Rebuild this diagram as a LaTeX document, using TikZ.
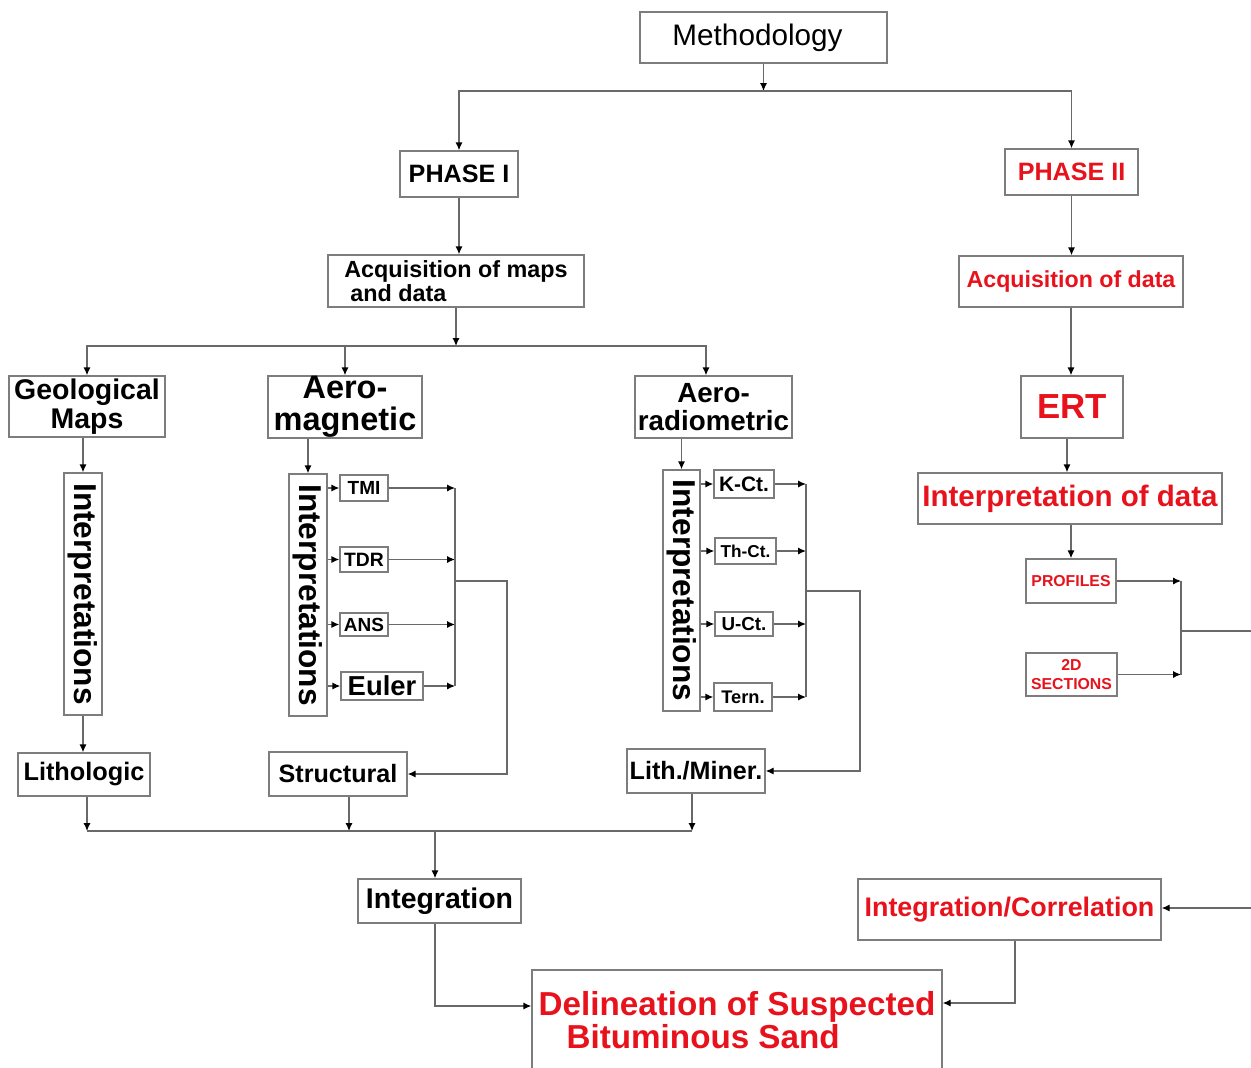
\documentclass[tikz,border=0pt]{standalone}
\usepackage{fontspec}
\setmainfont{Liberation Sans}
\usetikzlibrary{arrows.meta}

\definecolor{boxgray}{RGB}{125,125,125}
\definecolor{linegray}{RGB}{105,105,105}
\definecolor{phasered}{RGB}{232,18,28}
\newdimen\pxu \pxu=0.02cm

\tikzset{
	box/.style={draw=boxgray, line width=0.8pt, fill=white, inner sep=0pt, align=center},
	redbox/.style={box, text=phasered},
	sz/.style 2 args={minimum width={#1*\pxu}, minimum height={#2*\pxu}},
	fsz/.style={font=\bfseries\fontsize{#1}{#1}\selectfont},
	link/.style={draw=linegray, line width=0.7pt},
	arr/.style={link, -{Latex[length=4.5pt,width=4pt,color=black]}},
}

\begin{document}
\begin{tikzpicture}[x=0.02cm, y=-0.02cm]
	\clip (0,0) rectangle (1251,1068);
	% top of the tree
	\node[box, sz={247}{51}, font=\fontsize{16.9}{17}\selectfont] (meth) at (763.5,37.5) {Methodology\hspace{12\pxu}};
	\node[box, sz={118}{46}, fsz=14.3] (ph1) at (459,174) {PHASE I};
	\node[redbox, sz={133}{46}, fsz=14.3] (ph2) at (1071.5,172) {PHASE II};
	\coordinate (j1) at (763.5,91);
	\draw[arr] (meth) -- (j1);
	\draw[arr] (j1) -| (ph1);
	\draw[arr] (j1) -| (ph2);

	% phase I
	\node[box, sz={256}{52}, fsz=13.3, align=left] (acqm) at (456,281) {Acquisition of maps\\\hspace{6\pxu}and data};
	\draw[arr] (ph1) -- (ph1 |- acqm.north);
	\coordinate (j2) at (456,346);
	\draw[arr] (acqm) -- (j2);
	\node[box, sz={156}{61}, fsz=16.2] (geo) at (87,406.5) {Geological\\Maps};
	\node[box, sz={154}{62}, fsz=18.5] (amag) at (345,407) {Aero-\\magnetic};
	\node[box, sz={157}{62}, fsz=15.8] (arad) at (713.5,407) {Aero-\\radiometric};
	\draw[arr] (j2) -| (geo);
	\draw[arr] (j2) -| (amag);
	\draw[arr] (j2) -| ([xshift=-0.15cm]arad.north);

	% interpretation columns
	\node[box, sz={38}{242}, fsz=18] (int1) at (83,594) {\rotatebox{-90}{Interpretations}};
	\node[box, sz={38}{242}, fsz=18] (int2) at (308,595) {\rotatebox{-90}{Interpretations}};
	\node[box, sz={37}{241}, fsz=18] (int3) at (681.5,590.5) {\rotatebox{-90}{Interpretations}};
	\draw[arr] (geo.south -| int1) -- (int1);
	\draw[arr] (amag.south -| int2) -- (int2);
	\draw[arr] (arad.south -| int3) -- (int3);

	% magnetic products
	\node[box, sz={48}{26}, fsz=10.8] (tmi) at (364,488) {TMI};
	\node[box, sz={48}{25}, fsz=11] (tdr) at (364,559.5) {TDR};
	\node[box, sz={48}{23}, fsz=10.8] (ans) at (364,624.5) {ANS};
	\node[box, sz={82}{28}, fsz=15.6] (euler) at (382,686) {Euler};
	\coordinate (b1) at (455,581);
	\coordinate (b1r) at (507,581);
	\foreach \n in {tmi,tdr,ans,euler} {
		\draw[arr] (int2.east |- \n) -- (\n);
		\draw[arr] (\n) -- (\n -| b1);
	}
	\draw[link] (tmi -| b1) -- (euler -| b1);

	% radiometric products
	\node[box, sz={60}{28}, fsz=11.9] (kct) at (744,484) {K-Ct.};
	\node[box, sz={61}{26}, fsz=9.8] (thct) at (745.5,551) {Th-Ct.};
	\node[box, sz={58}{24}, fsz=10.7] (uct) at (744,624) {U-Ct.};
	\node[box, sz={58}{28}, fsz=10.4] (tern) at (743,697) {Tern.};
	\coordinate (b2) at (806,591);
	\coordinate (b2r) at (860,591);
	\foreach \n in {kct,thct,uct,tern} {
		\draw[arr] (int3.east |- \n) -- (\n);
		\draw[arr] (\n) -- (\n -| b2);
	}
	\draw[link] (kct -| b2) -- (tern -| b2);

	% results of phase I
	\node[box, sz={132}{43}, fsz=14.4] (lith) at (84,774.5) {Lithologic};
	\node[box, sz={138}{44}, fsz=14.3] (struc) at (338,774) {Structural};
	\node[box, sz={138}{44}, fsz=14.3] (lmin) at (696,771) {Lith./Miner.};
	\draw[arr] (int1) -- (int1 |- lith.north);
	\draw[arr] (b1) -- (b1r) |- (struc);
	\draw[arr] (b2) -- (b2r) |- (lmin);
	\coordinate (j3) at (435,831);
	\draw[arr] ([xshift=0.06cm]lith.south) -- ([xshift=0.06cm]lith.south |- j3);
	\draw[arr] ([xshift=0.22cm]struc.south) -- ([xshift=0.22cm]struc.south |- j3);
	\draw[arr] ([xshift=-0.08cm]lmin.south) -- ([xshift=-0.08cm]lmin.south |- j3);
	\draw[link] ([xshift=0.06cm]lith.south |- j3) -- ([xshift=-0.08cm]lmin.south |- j3);
	\node[box, sz={163}{44}, fsz=16.2] (integ) at (439.5,901) {Integration};
	\draw[arr] (j3) -- (j3 |- integ.north);

	% phase II
	\node[redbox, sz={224}{51}, fsz=13.2] (acqd) at (1071,281.5) {Acquisition of data};
	\node[redbox, sz={102}{62}, fsz=19.8] (ert) at (1072,407) {ERT};
	\node[redbox, sz={304}{51}, fsz=16.8] (iod) at (1070,498.5) {Interpretation of data};
	\node[redbox, sz={90}{44}, fsz=9] (prof) at (1071,581) {PROFILES};
	\node[redbox, sz={91}{43}, font=\bfseries\fontsize{9}{11}\selectfont] (sect) at (1071.5,674.5) {2D\\SECTIONS};
	\draw[arr] (ph2) -- (ph2 |- acqd.north);
	\draw[arr] (acqd) -- (acqd |- ert.north);
	\draw[arr] ([xshift=-0.1cm]ert.south) -- ([xshift=-0.1cm]ert.south |- iod.north);
	\draw[arr] (iod.south -| prof) -- (prof);
	\coordinate (b3) at (1181,631);
	\coordinate (b3r) at (1251,631);
	\draw[arr] (prof) -- (prof -| b3);
	\draw[arr] (sect) -- (sect -| b3);
	\draw[link] (prof -| b3) -- (sect -| b3);
	\draw[link] (b3) -- (b3r);

	% final stage
	\node[redbox, sz={303}{61}, fsz=15.3] (intc) at (1009.5,909.5) {Integration/Correlation};
	\node[redbox, sz={410}{100}, fsz=18.9, align=left] (delin) at (737,1020) {Delineation of Suspected\\\hspace{28\pxu}Bituminous Sand};
	\coordinate (r1) at (1251,908);
	\draw[arr] (r1) -- (r1 -| intc.east);
	\draw[arr] (integ.south -| j3) |- ([yshift=0.28cm]delin.west);
	\draw[arr] ([xshift=0.11cm]intc.south) |- ([yshift=0.34cm]delin.east);
\end{tikzpicture}
\end{document}
